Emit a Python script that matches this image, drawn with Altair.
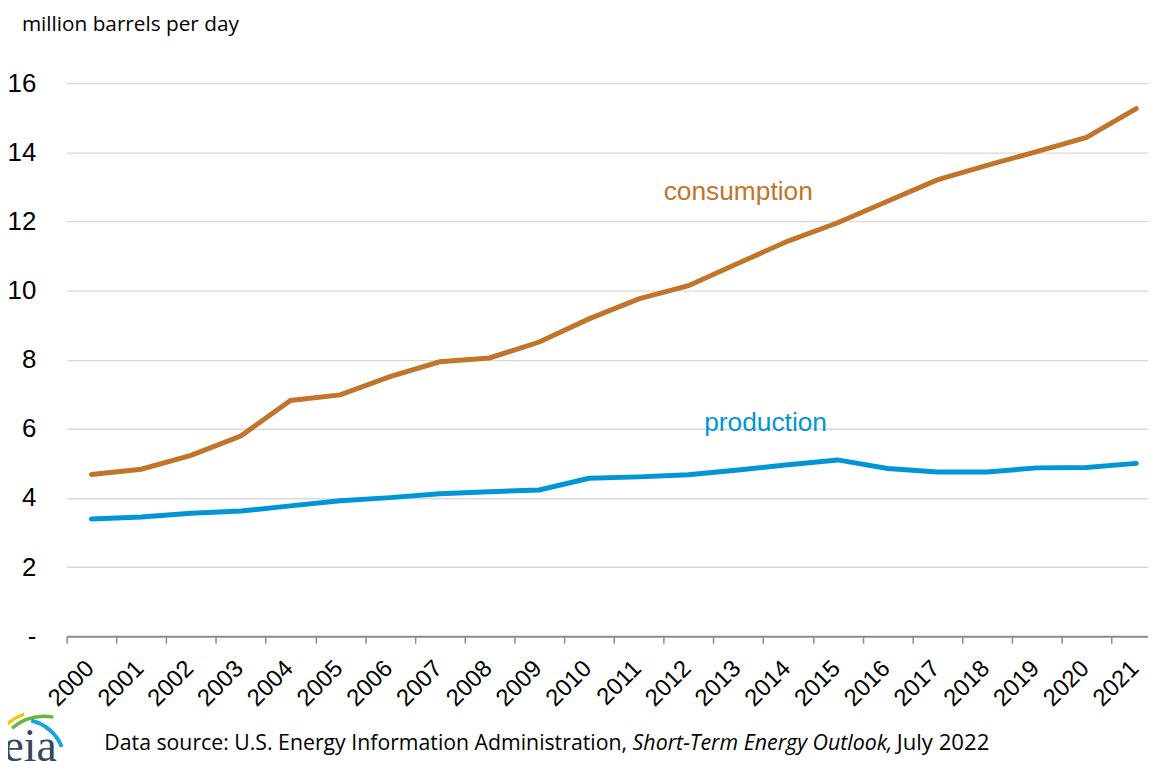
import altair as alt
import pandas as pd

# ---------------- data ----------------
years = list(range(2000, 2022))
consumption = [4.68, 4.83, 5.23, 5.79, 6.82, 6.98, 7.51, 7.94, 8.05, 8.51, 9.18,
               9.76, 10.14, 10.79, 11.43, 11.96, 12.58, 13.20, 13.62, 14.02, 14.43, 15.26]
production = [3.39, 3.45, 3.56, 3.62, 3.77, 3.92, 4.01, 4.12, 4.18, 4.23, 4.57,
              4.61, 4.67, 4.81, 4.96, 5.10, 4.85, 4.75, 4.75, 4.87, 4.88, 5.00]
series_names = ["consumption", "production"]
series_colors = ["#C0752B", "#0096D6"]
y_ticks = [0, 2, 4, 6, 8, 10, 12, 14, 16]
x_tick_edges = [y - 0.5 for y in years]
label_year = [2013.0, 2013.55]
label_value = [12.62, 5.93]

rows = []
for name, vals in zip(series_names, [consumption, production]):
    for yr, v in zip(years, vals):
        rows.append({"year": yr, "value": v, "series": name})
df = pd.DataFrame(rows)
lab_df = pd.DataFrame({"text": series_names, "year": label_year,
                       "value": label_value, "series": series_names})

W, H = 1089, 557
BAND = 50.1
SANS = "Liberation Sans, Arial, sans-serif"
FOOT = "Open Sans, Lato, sans-serif"

x_scale = alt.Scale(domain=[1999.5, 1999.5 + W / BAND], nice=False, zero=False)
y_scale = alt.Scale(domain=[0, 16], nice=False)
color_scale = alt.Scale(domain=series_names, range=series_colors)

x_axis = alt.Axis(values=x_tick_edges, labelExpr="toString(datum.value + 0.5)",
                  title=None, grid=False, labelAngle=-45, labelAlign="right",
                  labelBaseline="top", labelOffset=15, labelPadding=13,
                  tickSize=7, tickColor="#8C8C8C", tickWidth=1.5,
                  domainColor="#8C8C8C", domainWidth=2, labelFont=SANS,
                  labelFontSize=24, labelColor="#000000", labelOverlap=False,
                  labelFlush=False, labelBound=False)
y_axis = alt.Axis(values=y_ticks, labelExpr="datum.value == 0 ? '-' : datum.label",
                  title=None, grid=True, gridColor="#D9D9D9", gridWidth=1.4,
                  domain=False, ticks=False, tickSize=0, labelPadding=31,
                  labelFont=SANS, labelFontSize=26, labelColor="#000000")

lines = alt.Chart(df).mark_line(strokeWidth=5, strokeCap="round").encode(
    x=alt.X("year:Q", scale=x_scale, axis=x_axis),
    y=alt.Y("value:Q", scale=y_scale, axis=y_axis),
    color=alt.Color("series:N", scale=color_scale, legend=None),
)

labels = alt.Chart(lab_df).mark_text(font=SANS, fontSize=26.5, align="center",
                                     baseline="alphabetic").encode(
    x=alt.X("year:Q", scale=x_scale),
    y=alt.Y("value:Q", scale=y_scale),
    text="text:N",
    color=alt.Color("series:N", scale=color_scale, legend=None),
)

one = alt.Data(values=[{}])


def txt(s, x, y, size, style="normal", align="left", font=FOOT, color="#000000"):
    return alt.Chart(one).mark_text(text=s, font=font, fontSize=size, fontStyle=style,
                                    align=align, baseline="alphabetic",
                                    color=color).encode(x=alt.value(x), y=alt.value(y))


title = txt("million barrels per day", -45, -52.5, 20.9)
foot1 = txt("Data source: U.S. Energy Information Administration,", 38, 672, 21.4)
foot2 = txt("Short-Term Energy Outlook,", 570, 672, 21.5, style="italic")
foot3 = txt("July 2022", 836, 672, 22.3)
eia = txt("eia", -10, 683, 46, font="Liberation Serif, DejaVu Serif, serif",
          align="right", color="#34495E")


def arc(cx, cy, r, r2, t1, t2, color):
    return alt.Chart(one).mark_arc(radius=r, radius2=r2, theta=t1, theta2=t2,
                                   color=color).encode(x=alt.value(cx), y=alt.value(cy))


logo_blue = arc(-45, 684, 45, 41, 0.22, 1.2, "#1BA1DC")
logo_green = arc(-22, 690, 54, 50.5, 5.6, 6.45, "#6DB33F")
logo_yellow = arc(-22, 690, 60, 57, 5.4, 5.92, "#F2C500")

chart = alt.layer(lines, labels, title, foot1, foot2, foot3,
                  logo_yellow, logo_green, logo_blue, eia).properties(
    width=W, height=H,
    autosize=alt.AutoSizeParams(type="none"),
    padding={"left": 59, "top": 73, "right": 0, "bottom": 123},
    background="#FFFFFF",
).configure_view(stroke=None)

chart.save("out.html", embed_options={"renderer": "svg", "actions": False})
